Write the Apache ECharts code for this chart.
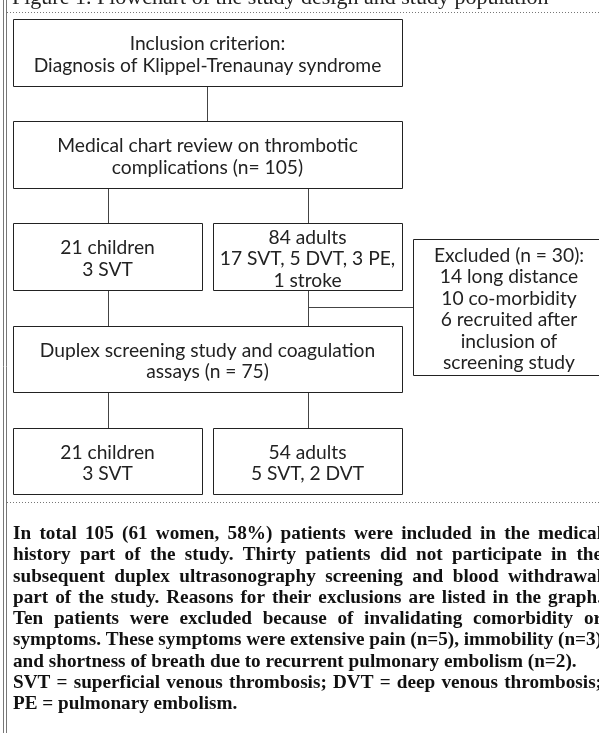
<!DOCTYPE html>
<html>
<head>
<meta charset="utf-8">
<script src="https://cdn.jsdelivr.net/npm/echarts@6/dist/echarts.min.js"></script>
<style>
  html, body { margin: 0; padding: 0; background: #fff; }
  #chart { width: 599px; height: 733px; }
</style>
</head>
<body>
<div id="chart"></div>
<script>
  // texts of the flowchart boxes
  const inclusionText = ['Inclusion criterion:', 'Diagnosis of Klippel-Trenaunay syndrome'];
  const reviewText = ['Medical chart review on thrombotic', 'complications (n= 105)'];
  const reviewChildrenText = ['21 children', '3 SVT'];
  const reviewAdultsText = ['84 adults', '17 SVT, 5 DVT, 3 PE,', '1 stroke'];
  const excludedText = ['Excluded (n = 30):', '14 long distance', '10 co-morbidity', '6 recruited after', 'inclusion of', 'screening study'];
  const screeningText = ['Duplex screening study and coagulation', 'assays (n = 75)'];
  const screenChildrenText = ['21 children', '3 SVT'];
  const screenAdultsText = ['54 adults', '5 SVT, 2 DVT'];

  const titleText = 'Figure 1. Flowchart of the study design and study population';
  const captionLines = [
    'In total 105 (61 women, 58%) patients were included in the medical',
    'history part of the study. Thirty patients did not participate in the',
    'subsequent duplex ultrasonography screening and blood withdrawal',
    'part of the study. Reasons for their exclusions are listed in the graph.',
    'Ten patients were excluded because of invalidating comorbidity or',
    'symptoms. These symptoms were extensive pain (n=5), immobility (n=3)',
    'and shortness of breath due to recurrent pulmonary embolism (n=2).',
    'SVT = superficial venous thrombosis; DVT = deep venous thrombosis;',
    'PE = pulmonary embolism.'
  ];
  // last line of a paragraph is not justified
  const captionRagged = [false, false, false, false, false, false, true, false, true];

  // layout, in page pixels (the hidden axes run 0..599 and 0..733)
  const boxes = [
    { text: inclusionText, x: [13, 402], y: [19, 86] },
    { text: reviewText, x: [13, 402], y: [121, 188] },
    { text: reviewChildrenText, x: [13, 202], y: [223, 290] },
    { text: reviewAdultsText, x: [213, 402], y: [223, 290] },
    { text: excludedText, x: [413, 605], y: [239, 375] },
    { text: screeningText, x: [13, 402], y: [326, 392] },
    { text: screenChildrenText, x: [13, 202], y: [428, 494] },
    { text: screenAdultsText, x: [213, 402], y: [428, 494] }
  ];
  const links = [
    [[207, 86], [207, 121]],
    [[108, 188], [108, 223]],
    [[308, 188], [308, 223]],
    [[108, 290], [108, 326]],
    [[308, 290], [308, 326]],
    [[308, 307], [413, 307]],
    [[108, 392], [108, 428]],
    [[308, 392], [308, 428]]
  ];

  const ctx = document.createElement('canvas').getContext('2d');
  function widthAt(text, family, weight) {
    ctx.font = weight + ' 100px ' + family;
    return ctx.measureText(text).width / 100;
  }

  const boxFamily = 'Lato, "Noto Sans", sans-serif';
  const boxFontSize = 348 / widthAt(inclusionText[1], boxFamily, 'normal');
  const capFamily = '"Liberation Serif", "DejaVu Serif", serif';
  const capFontSize = 564 / widthAt(captionLines[6], capFamily, 'bold');
  const capLeft = 13, capRight = 602, capTop = 534, capLine = 21.3;

  function crisp(v) { return Math.round(v) + 0.5; }

  // caption: justified, one text element per word
  const captionWords = [];
  ctx.font = 'bold ' + capFontSize + 'px ' + capFamily;
  const spaceW = ctx.measureText(' ').width;
  captionLines.forEach(function (line, i) {
    const words = line.split(' ');
    const ws = words.map(function (w) { return ctx.measureText(w).width; });
    const total = ws.reduce(function (a, b) { return a + b; }, 0);
    const gap = captionRagged[i] ? spaceW : (capRight - capLeft - total) / (words.length - 1);
    let x = capLeft;
    words.forEach(function (w, j) {
      captionWords.push({
        type: 'text',
        x: x,
        y: capTop + i * capLine,
        style: {
          text: w,
          fontFamily: capFamily,
          fontWeight: 'bold',
          fontSize: capFontSize,
          fill: '#111',
          verticalAlign: 'middle'
        }
      });
      x += ws[j] + gap;
    });
  });

  const myChart = echarts.init(document.getElementById('chart'));
  const option = {
    animation: false,
    grid: { left: 0, right: 0, top: 0, bottom: 0 },
    xAxis: { type: 'value', min: 0, max: 599, show: false },
    yAxis: { type: 'value', min: 0, max: 733, inverse: true, show: false },
    series: [
      {
        type: 'custom',
        name: 'links',
        data: links.map(function (l) { return [l[0][0], l[0][1], l[1][0], l[1][1]]; }),
        renderItem: function (params, api) {
          const a = api.coord([api.value(0), api.value(1)]);
          const b = api.coord([api.value(2), api.value(3)]);
          return {
            type: 'line',
            shape: { x1: crisp(a[0]), y1: crisp(a[1]), x2: crisp(b[0]), y2: crisp(b[1]) },
            style: { stroke: '#444', lineWidth: 1 }
          };
        }
      },
      {
        type: 'custom',
        name: 'boxes',
        data: boxes.map(function (b) { return [b.x[0], b.y[0], b.x[1], b.y[1]]; }),
        renderItem: function (params, api) {
          const p1 = api.coord([api.value(0), api.value(1)]);
          const p2 = api.coord([api.value(2), api.value(3)]);
          const lines = boxes[params.dataIndex].text;
          return {
            type: 'group',
            children: [
              {
                type: 'rect',
                shape: { x: crisp(p1[0]), y: crisp(p1[1]), width: Math.round(p2[0] - p1[0]), height: Math.round(p2[1] - p1[1]) },
                style: { fill: '#fff', stroke: '#222', lineWidth: 1 }
              },
              {
                type: 'text',
                x: (p1[0] + p2[0]) / 2,
                y: (p1[1] + p2[1]) / 2 + 2.5,
                style: {
                  text: lines.join('\n'),
                  fontFamily: boxFamily,
                  fontSize: boxFontSize,
                  lineHeight: 21.5,
                  fill: '#222',
                  align: 'center',
                  verticalAlign: 'middle'
                }
              }
            ]
          };
        }
      }
    ],
    graphic: [
      { type: 'line', shape: { x1: 3.5, y1: 0, x2: 3.5, y2: 733 }, style: { stroke: '#777', lineWidth: 1 } },
      { type: 'line', shape: { x1: 6.5, y1: 0, x2: 6.5, y2: 733 }, style: { stroke: '#777', lineWidth: 1 } },
      { type: 'line', shape: { x1: 7, y1: 12.5, x2: 599, y2: 12.5 }, style: { stroke: '#777', lineWidth: 1, lineDash: [1, 2] } },
      { type: 'line', shape: { x1: 7, y1: 502.5, x2: 599, y2: 502.5 }, style: { stroke: '#777', lineWidth: 1, lineDash: [1, 2] } },
      {
        type: 'text', x: 12, y: 9,
        style: { text: titleText, fontFamily: capFamily, fontSize: 22, fill: '#222', verticalAlign: 'bottom' }
      }
    ].concat(captionWords)
  };
  myChart.setOption(option, true);
</script>
</body>
</html>
